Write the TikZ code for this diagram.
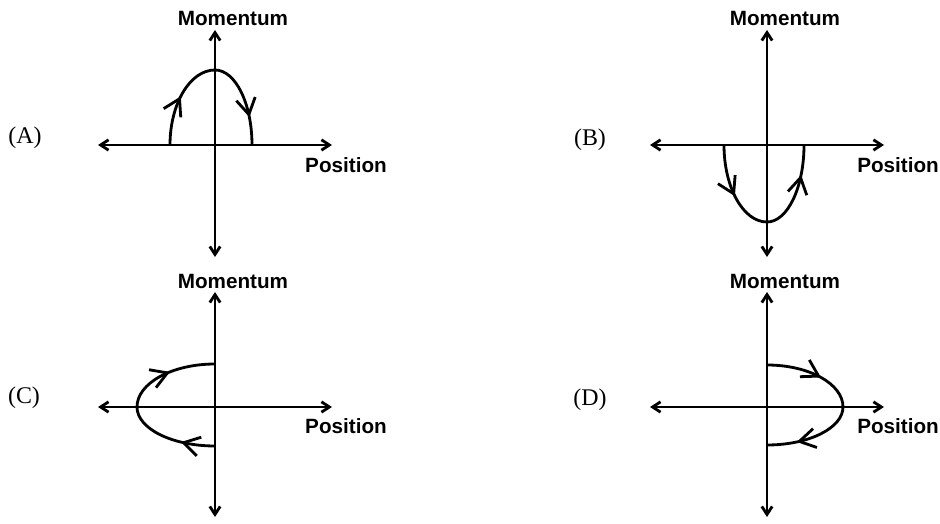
\documentclass[tikz,border=0pt]{standalone}
\usepackage{fontspec}
\newfontfamily\labelsans{Liberation Sans}
\newfontfamily\labelserif{Liberation Serif}
\usepackage{tikz}
\usetikzlibrary{arrows.meta,decorations.markings}

\begin{document}
\begin{tikzpicture}[
  axis/.style={line width=2pt,{Straight Barb[length=2mm,width=2.6mm]}-{Straight Barb[length=2mm,width=2.6mm]}},
  orbit/.style={line width=2pt,postaction={decorate}},
  flow/.tip={Straight Barb[length=4mm,width=4.8mm]},
  axlabel/.style={font=\labelsans\bfseries\fontsize{14.7}{17}\selectfont},
  caselabel/.style={font=\labelserif\fontsize{17}{20}\selectfont}]
  \useasboundingbox (0,0) rectangle (23.5,13.075);
  % (A) upper half, left to right
  \begin{scope}[shift={(5.375,9.45)}]
    \draw[axis] (-2.925,0)--(2.925,0);
    \draw[axis] (0,-2.8)--(0,2.875);
    \node[axlabel] (momA) at (0.45,3.175){Momentum};
    \node[axlabel] (posA) at (3.275,-0.5){Position};
    \node[caselabel] (caseA) at (-4.75,0.175){(A)};
    \draw[orbit,decoration={markings,mark=at position 0.27 with {\arrow{flow}},mark=at position 0.85 with {\arrow{flow}}}]
      (-1.125,0) arc[start angle=180,end angle=90,x radius=1.125,y radius=1.875]
      arc[start angle=90,end angle=0,x radius=0.925,y radius=1.875];
  \end{scope}
  % (B) lower half
  \begin{scope}[shift={(19.175,9.45)}]
    \draw[axis] (-2.925,0)--(2.925,0);
    \draw[axis] (0,-2.8)--(0,2.875);
    \node[axlabel] (momB) at (0.45,3.175){Momentum};
    \node[axlabel] (posB) at (3.275,-0.5){Position};
    \node[caselabel] (caseB) at (-4.425,0.125){(B)};
    \draw[orbit,decoration={markings,mark=at position 0.28 with {\arrow{flow}},mark=at position 0.84 with {\arrow{flow}}}]
      (-1.075,0) arc[start angle=180,end angle=270,x radius=1.075,y radius=1.925]
      arc[start angle=270,end angle=360,x radius=0.925,y radius=1.925];
  \end{scope}
  % (C) left half
  \begin{scope}[shift={(5.375,2.9)}]
    \draw[axis] (-2.925,0)--(2.925,0);
    \draw[axis] (0,-2.75)--(0,2.875);
    \node[axlabel] (momC) at (0.45,3.15){Momentum};
    \node[axlabel] (posC) at (3.275,-0.475){Position};
    \node[caselabel] (caseC) at (-4.775,0.225){(C)};
    \draw[orbit,decoration={markings,mark=at position 0.18 with {\arrow{flow}},mark=at position 0.76 with {\arrow{flow}}}]
      (0,-0.975) arc[start angle=270,end angle=180,x radius=1.95,y radius=0.975]
      arc[start angle=180,end angle=90,x radius=1.95,y radius=1.075];
  \end{scope}
  % (D) right half
  \begin{scope}[shift={(19.175,2.9)}]
    \draw[axis] (-2.925,0)--(2.925,0);
    \draw[axis] (0,-2.75)--(0,2.875);
    \node[axlabel] (momD) at (0.45,3.15){Momentum};
    \node[axlabel] (posD) at (3.275,-0.475){Position};
    \node[caselabel] (caseD) at (-4.425,0.175){(D)};
    \draw[orbit,decoration={markings,mark=at position 0.3 with {\arrow{flow}},mark=at position 0.84 with {\arrow{flow}}}]
      (0,1.05) arc[start angle=90,end angle=0,x radius=1.9,y radius=1.05]
      arc[start angle=0,end angle=-90,x radius=1.9,y radius=0.95];
  \end{scope}
\end{tikzpicture}
\end{document}
